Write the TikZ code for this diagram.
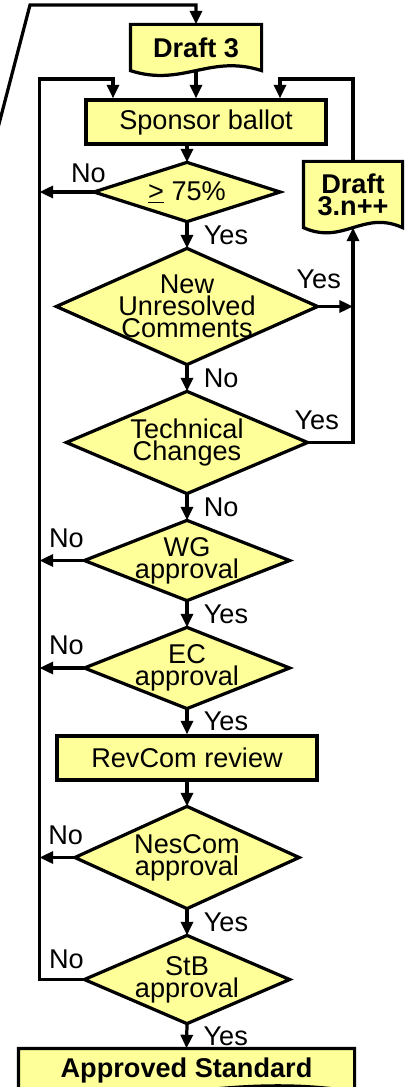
\documentclass[tikz,border=0pt]{standalone}
\usepackage{fontspec}
\setmainfont{Liberation Sans}
\usetikzlibrary{arrows.meta, backgrounds}
\definecolor{boxyellow}{HTML}{FFFF99}

\begin{document}
\begin{tikzpicture}[
    line width=2.3pt,
    every node/.style={font=\fontsize{19.3}{15.5}\selectfont},
    arr/.style={-{Triangle[length=0.34cm, width=0.3cm]}},
    procbox/.style={draw, fill=boxyellow, rectangle, inner sep=0pt},
    docbox/.style={rectangle, inner sep=0pt, align=center, font=\fontsize{19.3}{15.5}\selectfont\bfseries},
    decision/.style={rectangle, inner sep=0pt, align=center},
    outline/.style={draw=black, fill=boxyellow, line width=2.3pt},
    rlbl/.style={right, inner sep=0.1cm, xshift=0.28cm},
    ulbl/.style={above, inner sep=0.1cm, yshift=0.18cm}
]
\useasboundingbox (0,0) rectangle (10.15,-27.175);

% boxes and decisions
\node[docbox, minimum width=3.2cm, minimum height=1.075cm] (draft3) at (4.9,-1.1875) {Draft 3};
\node[procbox, minimum width=6.0cm, minimum height=1.1cm] (sponsor) at (5.15,-3.05) {Sponsor ballot};
\node[decision, minimum width=4.575cm, minimum height=1.4cm] (d75) at (4.675,-4.8) {\underline{>} 75\%};
\node[docbox, minimum width=2.4cm, minimum height=1.575cm] (draftn) at (8.825,-4.8625) {Draft\\3.n++};
\node[decision, minimum width=6.45cm, minimum height=2.825cm] (dnew) at (4.675,-7.6625) {New\\Unresolved\\Comments};
\node[decision, minimum width=5.95cm, minimum height=2.475cm] (dtech) at (4.675,-11.0625) {Technical\\Changes};
\node[decision, minimum width=5.05cm, minimum height=1.925cm] (dwg) at (4.675,-14.0125) {WG\\approval};
\node[decision, minimum width=5.05cm, minimum height=1.95cm] (dec) at (4.675,-16.7) {EC\\approval};
\node[procbox, minimum width=6.5cm, minimum height=1.1cm] (revcom) at (4.675,-18.95) {RevCom review};
\node[decision, minimum width=5.525cm, minimum height=2.475cm] (dnes) at (4.675,-21.4375) {NesCom\\approval};
\node[decision, minimum width=5.05cm, minimum height=2.125cm] (dstb) at (4.675,-24.4875) {StB\\approval};
\node[docbox, minimum width=8.325cm, minimum height=1.0cm] (approved) at (4.6625,-26.75) {Approved Standard};

% outlines behind the texts
\begin{scope}[on background layer]
\draw[outline] (d75.west) -- (d75.north) -- (d75.east) -- (d75.south) -- cycle;
\draw[outline] (dnew.west) -- (dnew.north) -- (dnew.east) -- (dnew.south) -- cycle;
\draw[outline] (dtech.west) -- (dtech.north) -- (dtech.east) -- (dtech.south) -- cycle;
\draw[outline] (dwg.west) -- (dwg.north) -- (dwg.east) -- (dwg.south) -- cycle;
\draw[outline] (dec.west) -- (dec.north) -- (dec.east) -- (dec.south) -- cycle;
\draw[outline] (dnes.west) -- (dnes.north) -- (dnes.east) -- (dnes.south) -- cycle;
\draw[outline] (dstb.west) -- (dstb.north) -- (dstb.east) -- (dstb.south) -- cycle;
\draw[outline] (draft3.south west) -- (draft3.north west) -- (draft3.north east) -- (draft3.south east)
    .. controls +(-1.3,0.42) and +(1.3,-0.42) .. (draft3.south west) -- cycle;
\draw[outline] (draftn.south west) -- (draftn.north west) -- (draftn.north east) -- (draftn.south east)
    .. controls +(-1.0,0.45) and +(1.0,-0.45) .. (draftn.south west) -- cycle;
\draw[outline] (approved.south west) -- (approved.north west) -- (approved.north east) -- (approved.south east)
    .. controls +(-3.3,0.5) and +(3.3,-0.5) .. (approved.south west) -- cycle;
\end{scope}

\coordinate (prev) at (-0.075,-3.29);
\coordinate (bend) at (0.75,-0.125);
\coordinate (lt) at (0.9875,-1.975);
\coordinate (inl) at (2.825,-1.975);
\coordinate (inr) at (7.0,-1.975);

% connectors
\draw[arr] (prev) -- (bend) -| (draft3.north);
\draw[arr] (draft3.south) -- (draft3.south |- sponsor.north);
\draw[arr] (dstb.west) -| node[ulbl, pos=0.2, yshift=-0.05cm] {No} (lt) -- (inl) -- (inl |- sponsor.north);
\draw[arr] (draftn.north) |- (inr) -- (inr |- sponsor.north);
\draw[arr] (d75.north |- sponsor.south) -- (d75.north);
\draw[arr] (d75.west) -- node[ulbl, pos=0.1, yshift=-0.08cm] {No} (d75.west -| lt);
\draw[arr] (d75.south) -- node[rlbl] {Yes} (dnew.north);
\draw[arr] (dnew.east) -- node[ulbl, pos=0.03, yshift=0.12cm] {Yes} (dnew.east -| draftn.south);
\draw[arr] (dnew.south) -- node[rlbl] {No} (dtech.north);
\draw[arr] (dtech.east) -| node[ulbl, pos=0.1] {Yes} (draftn.south);
\draw[arr] (dtech.south) -- node[rlbl] {No} (dwg.north);
\draw[arr] (dwg.west) -- node[ulbl, pos=0.4] {No} (dwg.west -| lt);
\draw[arr] (dwg.south) -- node[rlbl] {Yes} (dec.north);
\draw[arr] (dec.west) -- node[ulbl, pos=0.4] {No} (dec.west -| lt);
\draw[arr] (dec.south) -- node[rlbl] {Yes} (revcom.north);
\draw[arr] (revcom.south) -- (dnes.north);
\draw[arr] (dnes.west) -- node[ulbl, pos=0.26] {No} (dnes.west -| lt);
\draw[arr] (dnes.south) -- node[rlbl] {Yes} (dstb.north);
\draw[arr] (dstb.south) -- node[rlbl] {Yes} (approved.north);

\end{tikzpicture}
\end{document}
